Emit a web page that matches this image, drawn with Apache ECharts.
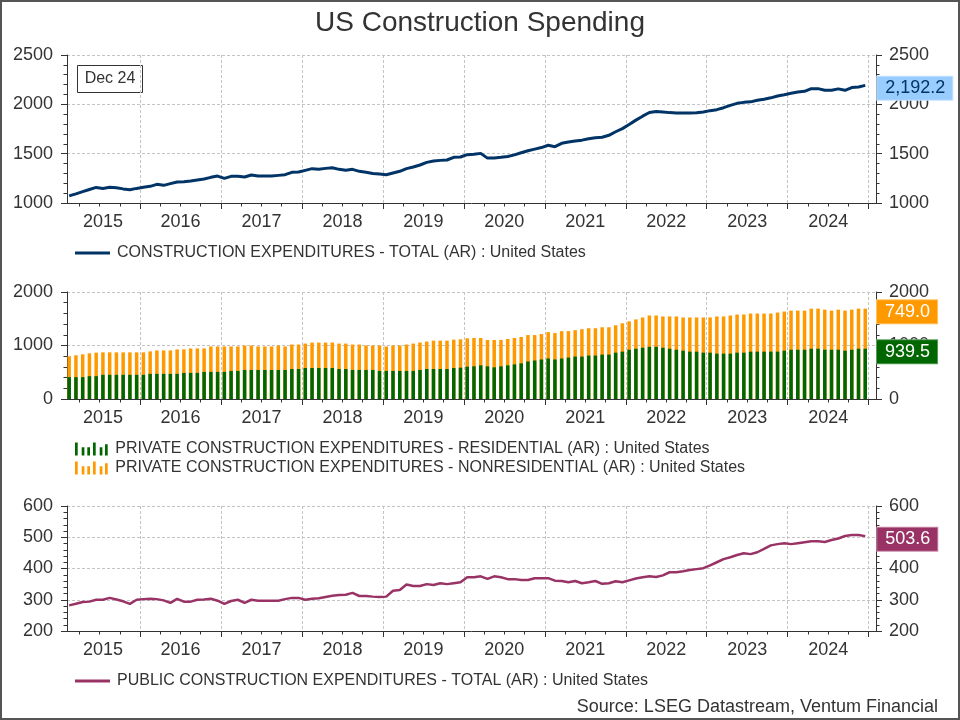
<!DOCTYPE html>
<html>
<head>
<meta charset="utf-8">
<title>US Construction Spending</title>
<script src="https://cdn.jsdelivr.net/npm/echarts@6/dist/echarts.min.js"></script>
<style>
  html, body { margin: 0; padding: 0; background: #fff; }
  #chart { width: 960px; height: 720px; }
</style>
</head>
<body>
<div id="chart"></div>
<script>
// Monthly series, Feb 2015 .. Dec 2024 (annual rate, USD bn)
const total = [
  1072, 1093, 1115, 1137, 1158, 1148, 1159, 1155, 1143, 1135, 1148,
  1159, 1169, 1189, 1179, 1196, 1213, 1216, 1223, 1233, 1243, 1260, 1273,
  1250, 1270, 1270, 1263, 1284, 1273, 1273, 1273, 1280, 1287, 1311, 1314,
  1331, 1348, 1341, 1351, 1358, 1341, 1331, 1341, 1321, 1311, 1300, 1294,
  1287, 1304, 1321, 1348, 1365, 1385, 1412, 1425, 1432, 1436, 1463, 1466,
  1490, 1493, 1503, 1455, 1456, 1463, 1472, 1488, 1509, 1530, 1546, 1562,
  1585, 1571, 1605, 1618, 1628, 1637, 1652, 1662, 1666, 1686, 1722, 1754,
  1796, 1840, 1880, 1917, 1928, 1922, 1916, 1912, 1912, 1912, 1915, 1923,
  1936, 1946, 1966, 1990, 2010, 2020, 2025, 2041, 2052, 2066, 2085, 2098,
  2113, 2124, 2132, 2159, 2159, 2143, 2142, 2157, 2142, 2170, 2176, 2192.2
];
const residential = [
  409, 409, 409, 427, 427, 452, 452, 452, 452, 452, 452,
  452, 470, 470, 470, 470, 470, 488, 488, 488, 507, 507, 507,
  507, 525, 525, 543, 543, 543, 543, 543, 543, 543, 561, 561,
  580, 580, 580, 580, 580, 561, 561, 543, 543, 543, 543, 525,
  525, 525, 525, 525, 525, 543, 561, 561, 561, 561, 580, 586,
  604, 611, 629, 611, 592, 611, 629, 647, 666, 702, 720, 739,
  757, 739, 757, 775, 793, 793, 812, 812, 830, 830, 866, 885,
  921, 940, 958, 976, 976, 958, 940, 921, 903, 885, 885, 866,
  866, 848, 848, 848, 866, 866, 885, 885, 885, 885, 885, 903,
  921, 921, 921, 940, 940, 921, 921, 921, 903, 921, 940, 939.5
];
const nonResidential = [
  390, 408, 426, 427, 439, 420, 420, 420, 420, 420, 420,
  420, 420, 438, 438, 438, 457, 439, 457, 457, 438, 475, 475,
  475, 457, 457, 457, 457, 439, 439, 439, 457, 439, 457, 457,
  456, 475, 475, 475, 475, 475, 475, 475, 475, 457, 457, 475,
  457, 475, 475, 493, 511, 512, 512, 530, 530, 530, 529, 529,
  530, 529, 511, 493, 512, 493, 493, 493, 493, 493, 475, 475,
  493, 493, 511, 493, 494, 512, 511, 511, 511, 511, 512, 530,
  530, 548, 566, 585, 585, 585, 603, 622, 621, 639, 639, 658,
  658, 695, 695, 713, 713, 713, 712, 712, 712, 712, 731, 731,
  731, 731, 731, 749, 749, 749, 731, 749, 749, 749, 749, 749.0
];
const publicTotal = [
  282, 287, 293, 294, 300, 300, 306, 301, 295, 287, 300,
  302, 303, 302, 298, 290, 303, 294, 294, 300, 301, 303, 297,
  287, 296, 300, 290, 300, 297, 297, 297, 297, 302, 306, 306,
  300, 303, 305, 309, 313, 315, 316, 322, 312, 312, 310, 309,
  310, 329, 331, 349, 344, 344, 350, 347, 353, 350, 353, 356,
  372, 372, 375, 367, 375, 372, 366, 366, 363, 363, 369, 369,
  369, 361, 360, 356, 360, 353, 356, 360, 351, 353, 359, 356,
  362, 368, 372, 375, 373, 378, 388, 388, 391, 395, 398, 401,
  410, 420, 430, 436, 443, 449, 446, 452, 463, 474, 478, 481,
  478, 481, 484, 487, 487, 485, 491, 496, 504, 507, 507, 503.6
];
const yearLabels = ['2015', '2016', '2017', '2018', '2019', '2020', '2021', '2022', '2023', '2024'];
const firstMonth = '2015-02';
const latestLabel = 'Dec 24';

const N_TOTAL = 'CONSTRUCTION EXPENDITURES - TOTAL (AR) : United States';
const N_RES = 'PRIVATE CONSTRUCTION EXPENDITURES - RESIDENTIAL (AR) : United States';
const N_NONRES = 'PRIVATE CONSTRUCTION EXPENDITURES - NONRESIDENTIAL (AR) : United States';
const N_PUBLIC = 'PUBLIC CONSTRUCTION EXPENDITURES - TOTAL (AR) : United States';

// month labels and positions (mid-month, in fractional years)
const months = [];
{
  const [fy, fm] = firstMonth.split('-').map(Number);
  for (let i = 0; i < total.length; i++) {
    const k = fy * 12 + (fm - 1) + i;
    months.push(Math.floor(k / 12) + '-' + String(k % 12 + 1).padStart(2, '0'));
  }
}
const xPos = months.map(s => {
  const [y, m] = s.split('-').map(Number);
  return y + (m - 0.5) / 12;
});

const yearTicks = yearLabels.map(y => +y + 1);
const quarterTicks = [];
yearLabels.forEach(y => { quarterTicks.push(+y + 0.25, +y + 0.5, +y + 0.75); });
// label each year in the middle of its data span
const yearLabelPos = yearLabels.map(y => {
  const inYear = xPos.filter(p => Math.floor(p) === +y);
  return (Math.min(...inYear) - 1 / 24 + Math.max(...inYear) + 1 / 24) / 2;
});

const X_MIN = 2015.098, X_MAX = 2025.091;
const FONT = '"Liberation Sans", Arial, Helvetica, sans-serif';
const GRID_COLOR = '#c4c4c4';
const AXIS_COLOR = '#333';
const TEXT_COLOR = '#333';
const BAR_ICON = 'path://M0,0h2.7v13h-2.7z M6.7,4.7h2.7v8.3h-2.7z M12.3,4.7h2.7v8.3h-2.7z M18,0h2.7v13h-2.7z M24.7,4.7h2.7v8.3h-2.7z M30,1.7h2.7v11.3h-2.7z';

const fmt = v => v.toLocaleString('en-US', { minimumFractionDigits: 1, maximumFractionDigits: 1 });
const pts = arr => arr.map((v, i) => [xPos[i], v]);

function boxLabel(bg, border, color) {
  return {
    show: true,
    backgroundColor: bg,
    borderColor: border,
    borderWidth: 1,
    color: color,
    fontSize: 18,
    fontFamily: FONT,
    padding: [3, 7, 2, 8]
  };
}

// bar points, with the last bar carrying the value box on the right
function barPts(arr, shown, style) {
  const data = pts(arr);
  const last = data.length - 1;
  data[last] = {
    value: data[last],
    label: Object.assign(boxLabel(style.bg, style.border, style.color), {
      position: ['100%', 0],
      align: 'left',
      verticalAlign: 'middle',
      offset: [10, 3],
      formatter: () => fmt(shown[last])
    })
  };
  return data;
}

function xAxes(gi) {
  return [{
    type: 'value', gridIndex: gi, position: 'bottom', min: X_MIN, max: X_MAX,
    axisLine: { show: true, onZero: false, lineStyle: { color: AXIS_COLOR, width: 1 } },
    axisTick: { show: true, length: 6, customValues: yearTicks, lineStyle: { color: AXIS_COLOR } },
    axisLabel: {
      customValues: yearLabelPos, formatter: v => String(Math.floor(v)),
      color: TEXT_COLOR, fontSize: 18, fontFamily: FONT, margin: 10
    },
    splitLine: { show: true, lineStyle: { color: GRID_COLOR, type: [3, 2], width: 1 } }
  }, {
    type: 'value', gridIndex: gi, position: 'bottom', min: X_MIN, max: X_MAX,
    axisLine: { show: false, onZero: false },
    axisTick: { show: true, length: 3.5, customValues: quarterTicks, lineStyle: { color: AXIS_COLOR } },
    axisLabel: { show: false },
    splitLine: { show: false }
  }];
}

function yAxes(gi, min, max, interval) {
  const base = {
    type: 'value', gridIndex: gi, min, max, interval,
    axisLine: { show: true, lineStyle: { color: AXIS_COLOR } },
    axisTick: { show: true, length: 6, lineStyle: { color: AXIS_COLOR } },
    minorTick: { show: true, splitNumber: 5, length: 3.5, lineStyle: { color: AXIS_COLOR } }
  };
  const label = { color: TEXT_COLOR, fontSize: 18, fontFamily: FONT, formatter: v => String(v) };
  return [
    Object.assign({}, base, {
      position: 'left',
      axisLabel: Object.assign({ margin: 14 }, label),
      splitLine: { show: true, lineStyle: { color: GRID_COLOR, type: [3, 2], width: 1 } }
    }),
    Object.assign({}, base, {
      position: 'right',
      axisLabel: Object.assign({ margin: 13 }, label),
      splitLine: { show: false }
    })
  ];
}

const legendText = { color: TEXT_COLOR, fontSize: 16, fontFamily: FONT, padding: [0, 0, 0, 2] };
const privateTotal = residential.map((v, i) => v + nonResidential[i]);

const option = {
  animation: false,
  backgroundColor: '#fff',
  title: {
    text: 'US Construction Spending',
    left: 'center',
    top: 4,
    textStyle: { fontSize: 28, fontWeight: 'normal', color: TEXT_COLOR, fontFamily: FONT }
  },
  grid: [
    { left: 67, right: 84, top: 55, height: 148 },
    { left: 67, right: 84, top: 292, height: 107 },
    { left: 67, right: 84, top: 506, height: 125 }
  ],
  xAxis: [].concat(xAxes(0), xAxes(1), xAxes(2)),
  yAxis: [].concat(yAxes(0, 1000, 2500, 500), yAxes(1, 0, 2000, 1000), yAxes(2, 200, 600, 100)),
  legend: [
    {
      data: [N_TOTAL], left: 75, top: 245, padding: 0, selectedMode: false,
      icon: 'rect', itemWidth: 35, itemHeight: 3, itemStyle: { borderWidth: 0 },
      textStyle: legendText
    },
    {
      data: [N_RES, N_NONRES], orient: 'vertical', left: 75, top: 441, padding: 0, itemGap: 3,
      selectedMode: false, icon: BAR_ICON, itemWidth: 34, itemHeight: 13,
      itemStyle: { borderWidth: 0 }, textStyle: legendText
    },
    {
      data: [N_PUBLIC], left: 75, top: 673, padding: 0, selectedMode: false,
      icon: 'rect', itemWidth: 35, itemHeight: 3, itemStyle: { borderWidth: 0 },
      textStyle: legendText
    }
  ],
  series: [
    {
      name: N_TOTAL, type: 'line', xAxisIndex: 0, yAxisIndex: 0,
      data: pts(total), symbol: 'none', z: 3,
      lineStyle: { color: '#003366', width: 3 },
      itemStyle: { color: '#003366' },
      endLabel: Object.assign(boxLabel('#99ccff', '#c6e2ff', '#003366'), {
        distance: 12,
        offset: [0, 3],
        formatter: p => fmt(p.value[1])
      })
    },
    {
      // full private bar (nonresidential sits on top of residential)
      name: N_NONRES, type: 'bar', xAxisIndex: 2, yAxisIndex: 2,
      barWidth: 3.5, barGap: '-100%', z: 2,
      itemStyle: { color: '#ff9900' },
      data: barPts(privateTotal, nonResidential, { bg: '#ff9900', border: '#ffc266', color: '#fff' })
    },
    {
      name: N_RES, type: 'bar', xAxisIndex: 2, yAxisIndex: 2,
      barWidth: 3.5, barGap: '-100%', z: 3,
      itemStyle: { color: '#006600' },
      data: barPts(residential, residential, { bg: '#006600', border: '#5a9e5a', color: '#fff' })
    },
    {
      name: N_PUBLIC, type: 'line', xAxisIndex: 4, yAxisIndex: 4,
      data: pts(publicTotal), symbol: 'none', z: 3,
      lineStyle: { color: '#993366', width: 2.5 },
      itemStyle: { color: '#993366' },
      endLabel: Object.assign(boxLabel('#993366', '#c98aa9', '#fff'), {
        distance: 12,
        offset: [0, 3],
        formatter: p => fmt(p.value[1])
      })
    }
  ],
  graphic: [
    {
      type: 'rect', silent: true, z: 100,
      shape: { x: 1, y: 1, width: 958, height: 718 },
      style: { fill: 'none', stroke: '#555', lineWidth: 2 }
    },
    {
      type: 'group', x: 77, y: 65, z: 10,
      children: [
        { type: 'rect', shape: { x: 0.5, y: 0.5, width: 65, height: 27 }, style: { fill: '#fff', stroke: '#333', lineWidth: 1 } },
        { type: 'text', x: 33, y: 14, style: { text: latestLabel, fill: TEXT_COLOR, fontSize: 16, fontFamily: FONT, align: 'center', verticalAlign: 'middle' } }
      ]
    },
    {
      type: 'text', x: 938, y: 707, z: 10,
      style: {
        text: 'Source: LSEG Datastream, Ventum Financial',
        fill: TEXT_COLOR, fontSize: 18, fontFamily: FONT, align: 'right', verticalAlign: 'middle'
      }
    }
  ]
};

const chart = echarts.init(document.getElementById('chart'));
chart.setOption(option);
</script>
</body>
</html>
